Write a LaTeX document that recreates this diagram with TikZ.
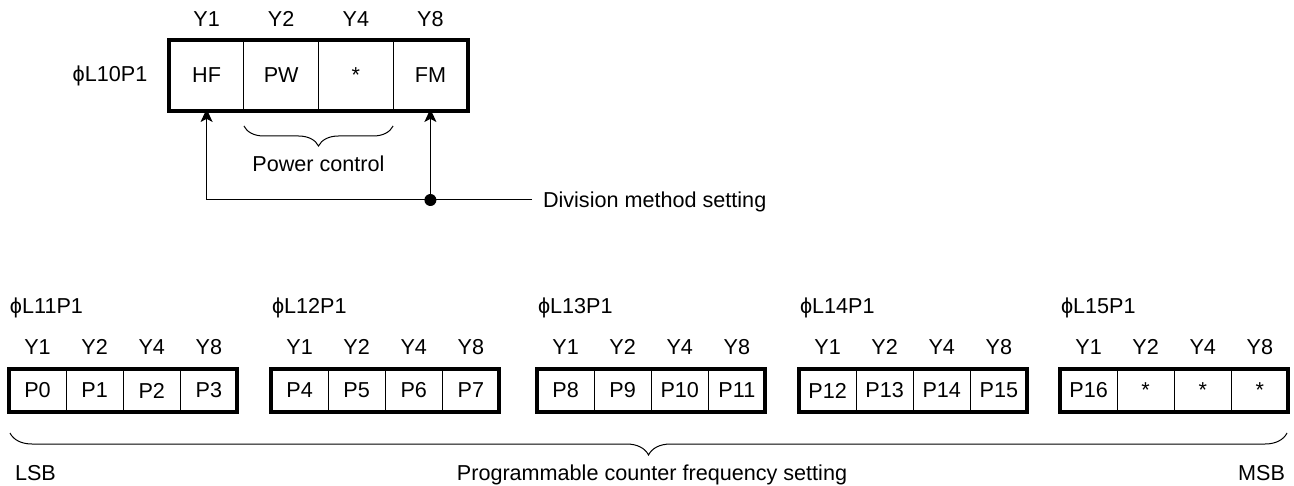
\documentclass[tikz,border=0pt]{standalone}
\usepackage{fontspec}
\setmainfont{Liberation Sans}
\usepackage{tikz}
\usetikzlibrary{arrows.meta,positioning,decorations.pathreplacing}

\begin{document}
\begin{tikzpicture}[
  x=0.5pt,y=-0.5pt,
  every node/.style={font=\fontsize{10.8}{13}\selectfont},
  tcell/.style={draw,line width=0.5pt,outer sep=0pt,inner sep=0pt,
                minimum width=37.3pt,minimum height=35.5pt},
  bcell/.style={draw,line width=0.5pt,outer sep=0pt,inner sep=0pt,
                minimum width=28.55pt,minimum height=21.5pt},
  bit/.style={inner sep=0pt,outer sep=0pt},
  frame/.style={line width=2pt},
  sig/.style={-{Stealth[length=6.5pt,width=6pt,inset=1.6pt]},line width=0.5pt},
  brc/.style={decorate,decoration={brace,mirror,amplitude=#1},line width=0.5pt},
  dot/.style={circle,fill,inner sep=0pt,minimum size=6pt},
]
\useasboundingbox (0,0) rectangle (1294,486);
% ---- L10 register (flags) ----
\node[tcell] (hf) at (206.6,75.5) {HF};
\node[tcell,right=0pt of hf] (pw) {PW};
\node[tcell,right=0pt of pw] (ast) {*};
\node[tcell,right=0pt of ast] (fm) {FM};
\draw[frame] (hf.north west) rectangle (fm.south east);
\node[bit,above=6.5pt of hf] (hfy) {Y1}; \node[bit,above=6.5pt of pw] (pwy) {Y2};
\node[bit,above=6.5pt of ast] (asty) {Y4}; \node[bit,above=6.5pt of fm] (fmy) {Y8};
\node[bit,left=11pt of hf] (l10) {ϕL10P1};
% power control brace under PW and *
\draw[brc=10pt] ([yshift=-7.5pt]pw.south west) -- ([yshift=-7.5pt]ast.south east);
\node[bit,anchor=base] (pwc) at (318.5,171.5) {Power control};
% HF and FM are both fed from the division method line
\coordinate (dv) at (532,200);
\node[bit,anchor=base west] (dvt) at (543,207.7) {Division method setting};
\node[dot] (jn) at (fm |- dv) {};
\draw[sig,shorten >=-1pt] (dv) -| (hf.south);
\draw[sig,shorten >=-1pt] (jn) -- (fm.south);
% ---- L11 .. L15 registers (counter bits) ----
\begin{scope}[shift={(7,0)}]
  \node[bit,anchor=base west] (l11) at (3,313) {ϕL11P1};
  \node[bcell] (p0) at (30.55,390.5) {P0};
  \node[bcell,right=0pt of p0] (p1) {P1};
  \node[bcell,right=0pt of p1] (p2) {P2};
  \node[bcell,right=0pt of p2] (p3) {P3};
  \draw[frame] (p0.north west) rectangle (p3.south east);
  \node[bit,above=7.3pt of p0] (p0y) {Y1}; \node[bit,above=7.3pt of p1] (p1y) {Y2};
  \node[bit,above=7.3pt of p2] (p2y) {Y4}; \node[bit,above=7.3pt of p3] (p3y) {Y8};
\end{scope}
\begin{scope}[shift={(269,0)}]
  \node[bit,anchor=base west] (l12) at (3,313) {ϕL12P1};
  \node[bcell] (p4) at (30.55,390.5) {P4};
  \node[bcell,right=0pt of p4] (p5) {P5};
  \node[bcell,right=0pt of p5] (p6) {P6};
  \node[bcell,right=0pt of p6] (p7) {P7};
  \draw[frame] (p4.north west) rectangle (p7.south east);
  \node[bit,above=7.3pt of p4] (p4y) {Y1}; \node[bit,above=7.3pt of p5] (p5y) {Y2};
  \node[bit,above=7.3pt of p6] (p6y) {Y4}; \node[bit,above=7.3pt of p7] (p7y) {Y8};
\end{scope}
\begin{scope}[shift={(535,0)}]
  \node[bit,anchor=base west] (l13) at (3,313) {ϕL13P1};
  \node[bcell] (p8) at (30.55,390.5) {P8};
  \node[bcell,right=0pt of p8] (p9) {P9};
  \node[bcell,right=0pt of p9] (p10) {P10};
  \node[bcell,right=0pt of p10] (p11) {P11};
  \draw[frame] (p8.north west) rectangle (p11.south east);
  \node[bit,above=7.3pt of p8] (p8y) {Y1}; \node[bit,above=7.3pt of p9] (p9y) {Y2};
  \node[bit,above=7.3pt of p10] (p10y) {Y4}; \node[bit,above=7.3pt of p11] (p11y) {Y8};
\end{scope}
\begin{scope}[shift={(797,0)}]
  \node[bit,anchor=base west] (l14) at (3,313) {ϕL14P1};
  \node[bcell] (p12) at (30.55,390.5) {P12};
  \node[bcell,right=0pt of p12] (p13) {P13};
  \node[bcell,right=0pt of p13] (p14) {P14};
  \node[bcell,right=0pt of p14] (p15) {P15};
  \draw[frame] (p12.north west) rectangle (p15.south east);
  \node[bit,above=7.3pt of p12] (p12y) {Y1}; \node[bit,above=7.3pt of p13] (p13y) {Y2};
  \node[bit,above=7.3pt of p14] (p14y) {Y4}; \node[bit,above=7.3pt of p15] (p15y) {Y8};
\end{scope}
\begin{scope}[shift={(1058,0)}]
  \node[bit,anchor=base west] (l15) at (3,313) {ϕL15P1};
  \node[bcell] (p16) at (30.55,390.5) {P16};
  \node[bcell,right=0pt of p16] (s1) {*};
  \node[bcell,right=0pt of s1] (s2) {*};
  \node[bcell,right=0pt of s2] (s3) {*};
  \draw[frame] (p16.north west) rectangle (s3.south east);
  \node[bit,above=7.3pt of p16] (p16y) {Y1}; \node[bit,above=7.3pt of s1] (s1y) {Y2};
  \node[bit,above=7.3pt of s2] (s2y) {Y4}; \node[bit,above=7.3pt of s3] (s3y) {Y8};
\end{scope}
% ---- whole counter word ----
\coordinate (lsb) at (10,433);
\coordinate (msb) at (1287,433);
\draw[brc=11pt] (lsb) -- (msb);
\node[bit,anchor=base west] (lsbt) at (15,480) {LSB};
\node[bit,anchor=base] (pcf) at (652,480) {Programmable counter frequency setting};
\node[bit,anchor=base east] (msbt) at (1285,480) {MSB};
\end{tikzpicture}
\end{document}
